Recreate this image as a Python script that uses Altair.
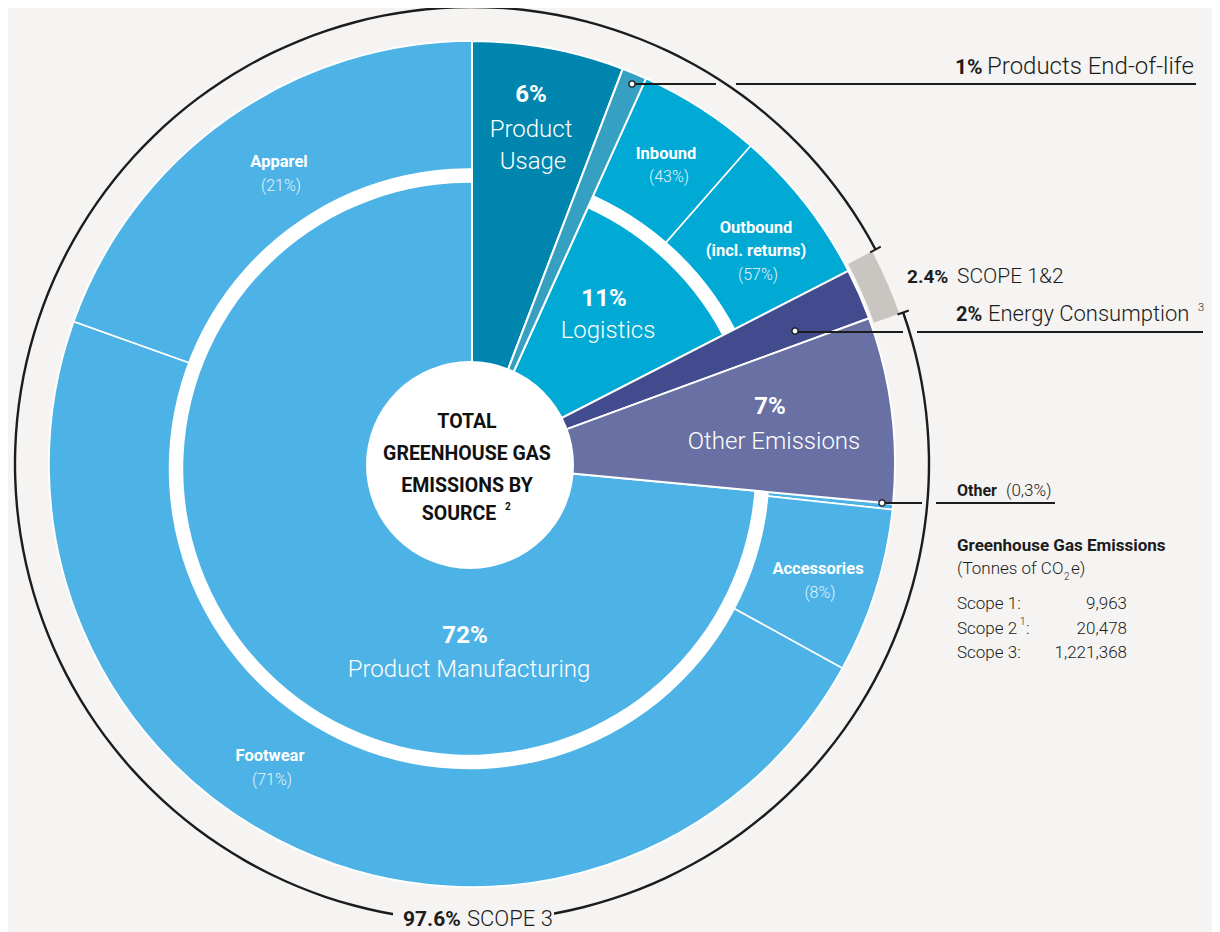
import math
import altair as alt
import pandas as pd

# ---------------- data ----------------
top_names = ["Product Usage", "Products End-of-life", "Logistics",
             "Energy Consumption", "Other Emissions", "Product Manufacturing"]
top_pct_label = ["6%", "1%", "11%", "2%", "7%", "72%"]
# angular share of each slice as drawn (sums to 100)
top_share = [5.8, 0.95, 10.7, 1.95, 7.1, 73.5]
top_colors = ["#0086AE", "#35A0C1", "#00AAD4", "#424B8E", "#6870A4", "#4DB3E6"]
top_split = [0, 0, 1, 0, 0, 1]

sub_names = ["Product Usage", "Products End-of-life", "Inbound", "Outbound",
             "Energy Consumption", "Other Emissions", "Other", "Accessories",
             "Footwear", "Apparel"]
sub_pct_label = ["", "", "(43%)", "(57%)", "", "", "(0,3%)", "(8%)", "(71%)", "(21%)"]
sub_share = [5.8, 0.95, 4.7, 6.0, 1.95, 7.1, 0.22, 6.3, 47.45, 19.53]
sub_parent = [0, 1, 2, 2, 3, 4, 5, 5, 5, 5]
sub_visible = [0, 0, 1, 1, 0, 0, 1, 1, 1, 1]

scope_names = ["SCOPE 1&2", "SCOPE 3"]
scope_pct_label = ["2.4%", "97.6%"]
scope_share = [2.4, 97.6]

table_rows = ["Scope 1:", "Scope 2", "Scope 3:"]
table_values = ["9,963", "20,478", "1,221,368"]


def cum(shares, start=0.0):
    t0, t1, acc = [], [], start
    for s in shares:
        t0.append(acc)
        acc += s
        t1.append(acc)
    return t0, t1


t0, t1 = cum(top_share)
top_df = pd.DataFrame({"name": top_names, "t0": t0, "t1": t1,
                       "color": top_colors, "split": top_split})
s0, s1 = cum(sub_share)
sub_df = pd.DataFrame({"name": sub_names, "t0": s0, "t1": s1,
                       "color": [top_colors[p] for p in sub_parent],
                       "vis": sub_visible})

# ---------------- layout constants ----------------
W, H = 1204, 924
BG = "#F5F4F2"
CX, CY = 464, 456          # pie centre (chart px)
R_OUT = 423
FONT = "Roboto, Liberation Sans, sans-serif"
INK = "#1C1C1C"
TH = alt.Scale(domain=[0, 100], range=[0, 2 * math.pi])
SCOPE_ROT = 62.0 / 3.6     # scope ring rotation, share units
RING_EXT = 0.6

sc0, sc1 = cum(scope_share, SCOPE_ROT)
scope_df = pd.DataFrame({"name": scope_names, "t0": sc0, "t1": sc1})
tick_pos = [sc0[0], sc1[0]]
tick_df = pd.DataFrame({"t0": [p - 0.035 for p in tick_pos],
                        "t1": [p + 0.035 for p in tick_pos]})
ring_df = top_df[top_df.split == 1].copy()
ring_df["t0"] = ring_df["t0"] - RING_EXT
ring_df["t1"] = ring_df["t1"] + RING_EXT

ONE = pd.DataFrame({"k": [0]})


def arcs(df, r_out, r_in=0, cx=CX, cy=CY, color=None, **kw):
    enc = dict(theta=alt.Theta("t0:Q", scale=TH, stack=None),
               theta2=alt.Theta2("t1:Q"),
               x=alt.value(cx), y=alt.value(cy))
    if color is None:
        enc["color"] = alt.Color("color:N", scale=None)
        return alt.Chart(df).mark_arc(radius=r_out, radius2=r_in, **kw).encode(**enc)
    return alt.Chart(df).mark_arc(radius=r_out, radius2=r_in, color=color, **kw).encode(**enc)


def txt(s, x, y, size, weight="normal", color=INK, align="center"):
    return alt.Chart(ONE).mark_text(
        text=s, font=FONT, fontSize=size, fontWeight=weight,
        color=color, align=align, baseline="alphabetic"
    ).encode(x=alt.value(x - 8), y=alt.value(y - 8))


def rule(x1, x2, y, w=2):
    return alt.Chart(ONE).mark_rule(color=INK, strokeWidth=w).encode(
        x=alt.value(x1 - 8), x2=alt.value(x2 - 8), y=alt.value(y - 8))


def dot(x, y):
    return alt.Chart(ONE).mark_point(
        shape="circle", filled=True, fill="white", stroke=INK,
        strokeWidth=1.4, size=38, opacity=1
    ).encode(x=alt.value(x - 8), y=alt.value(y - 8))


B, L, N = "bold", 300, "normal"

layers = []
# 1 split top slices (full radius)
layers.append(arcs(top_df[top_df.split == 1], R_OUT, 0, stroke="white", strokeWidth=2))
# 2 outer sub ring (inner edge hidden under the white ring)
layers.append(arcs(sub_df[sub_df.vis == 1], R_OUT, 293, stroke="white", strokeWidth=1.6))
# 3 white separating ring (slightly off-centre, as drawn)
layers.append(arcs(ring_df, 300.5, 286, cx=CX - 2.75, cy=CY + 4.75, color="white"))
# 4 non split top slices
layers.append(arcs(top_df[top_df.split == 0], R_OUT, 0, stroke="white", strokeWidth=2))
# 5 centre disc
layers.append(arcs(pd.DataFrame({"t0": [0], "t1": [100]}), 104, 0,
                   cx=CX - 2, cy=CY + 1, color="white"))
# 6 scope ring
layers.append(arcs(scope_df[scope_df.name == "SCOPE 1&2"], 453, 426, color="#C9C6C2"))
layers.append(arcs(scope_df[scope_df.name == "SCOPE 3"], 458.2, 455.8, color=INK))
layers.append(arcs(tick_df, 463, 451, color=INK))
# mask for bottom label
layers.append(alt.Chart(ONE).mark_rect(color=BG).encode(
    x=alt.value(385), x2=alt.value(546), y=alt.value(892), y2=alt.value(924)))

# leader lines
layers += [rule(632, 716, 84), rule(736, 1196, 84),
           rule(795, 903, 332), rule(917, 1203, 332),
           rule(882, 922, 503), rule(936, 1055, 503)]
layers += [dot(632, 84), dot(795, 331), dot(882, 503)]

WH = "white"
LT = "#E3F2FB"
# in-pie labels
layers += [
    txt(sub_names[9], 279, 167, 16.5, B, WH), txt(sub_pct_label[9], 281, 191, 16, L, LT),
    txt(top_pct_label[0], 531, 102, 24, B, WH), txt("Product", 531, 137, 24, L, WH),
    txt("Usage", 533, 169, 24, L, WH),
    txt(sub_names[2], 666, 159, 16.5, B, WH), txt(sub_pct_label[2], 669, 182, 16, L, LT),
    txt(sub_names[3], 756, 233, 16.5, B, WH), txt("(incl. returns)", 756, 256, 16.5, B, WH),
    txt(sub_pct_label[3], 758, 280, 16, L, LT),
    txt(top_pct_label[2], 604, 306, 24, B, WH), txt(top_names[2], 608, 338, 24, L, WH),
    txt(top_pct_label[4], 770, 414, 24, B, WH), txt(top_names[4], 774, 449, 24, L, WH),
    txt(sub_names[7], 818, 574, 16.5, B, WH), txt(sub_pct_label[7], 820, 598, 16, L, LT),
    txt(top_pct_label[5], 465, 643, 24, B, WH), txt(top_names[5], 469, 677, 24, L, WH),
    txt(sub_names[8], 270, 761, 16.5, B, WH), txt(sub_pct_label[8], 272, 785, 16, L, LT),
]
# centre title
layers += [
    txt("TOTAL", 467, 428, 19.5, B, "#111"),
    txt("GREENHOUSE GAS", 467, 460, 19.5, B, "#111"),
    txt("EMISSIONS BY", 467, 492, 19.5, B, "#111"),
    txt("SOURCE", 459, 520, 19.5, B, "#111"),
    txt("2", 505, 510, 10, B, "#111", align="left"),
]
# right annotations
layers += [
    txt(top_pct_label[1], 955, 74, 21, B, align="left"),
    txt(top_names[1], 987, 74, 24, L, align="left"),
    txt(scope_pct_label[0], 907, 283, 19, B, align="left"),
    txt(scope_names[0], 957, 283, 21, L, align="left"),
    txt(top_pct_label[3], 956, 321, 20, B, align="left"),
    txt(top_names[3], 988, 321, 22, L, align="left"),
    txt("3", 1198, 311, 11, L, align="left"),
    txt(sub_names[6], 957, 496, 16, B, align="left"),
    txt(sub_pct_label[6], 1006, 496, 17, L, align="left"),
    txt("Greenhouse Gas Emissions", 957, 551, 17, B, align="left"),
    txt("(Tonnes of CO", 957, 574, 17, L, align="left"),
    txt("2", 1064, 580, 10, L, align="left"),
    txt("e)", 1071, 574, 17, L, align="left"),
    txt(table_rows[0], 957, 609, 17, L, align="left"),
    txt(table_rows[1], 957, 634, 17, L, align="left"),
    txt("1", 1020, 625, 10, L, align="left"),
    txt(":", 1026, 634, 17, L, align="left"),
    txt(table_rows[2], 957, 658, 17, L, align="left"),
    txt(table_values[0], 1127, 609, 17, L, align="right"),
    txt(table_values[1], 1127, 634, 17, L, align="right"),
    txt(table_values[2], 1127, 658, 17, L, align="right"),
    txt(scope_pct_label[1], 403, 926, 21, B, align="left"),
    txt(scope_names[1], 467, 926, 22, L, align="left"),
]

chart = alt.layer(*layers).properties(
    width=W, height=H, padding=0,
    autosize=alt.AutoSizeParams(type="none"),
    background=BG,
).configure_view(stroke=None)

chart.save("out.html", embed_options={"renderer": "svg", "actions": False})
